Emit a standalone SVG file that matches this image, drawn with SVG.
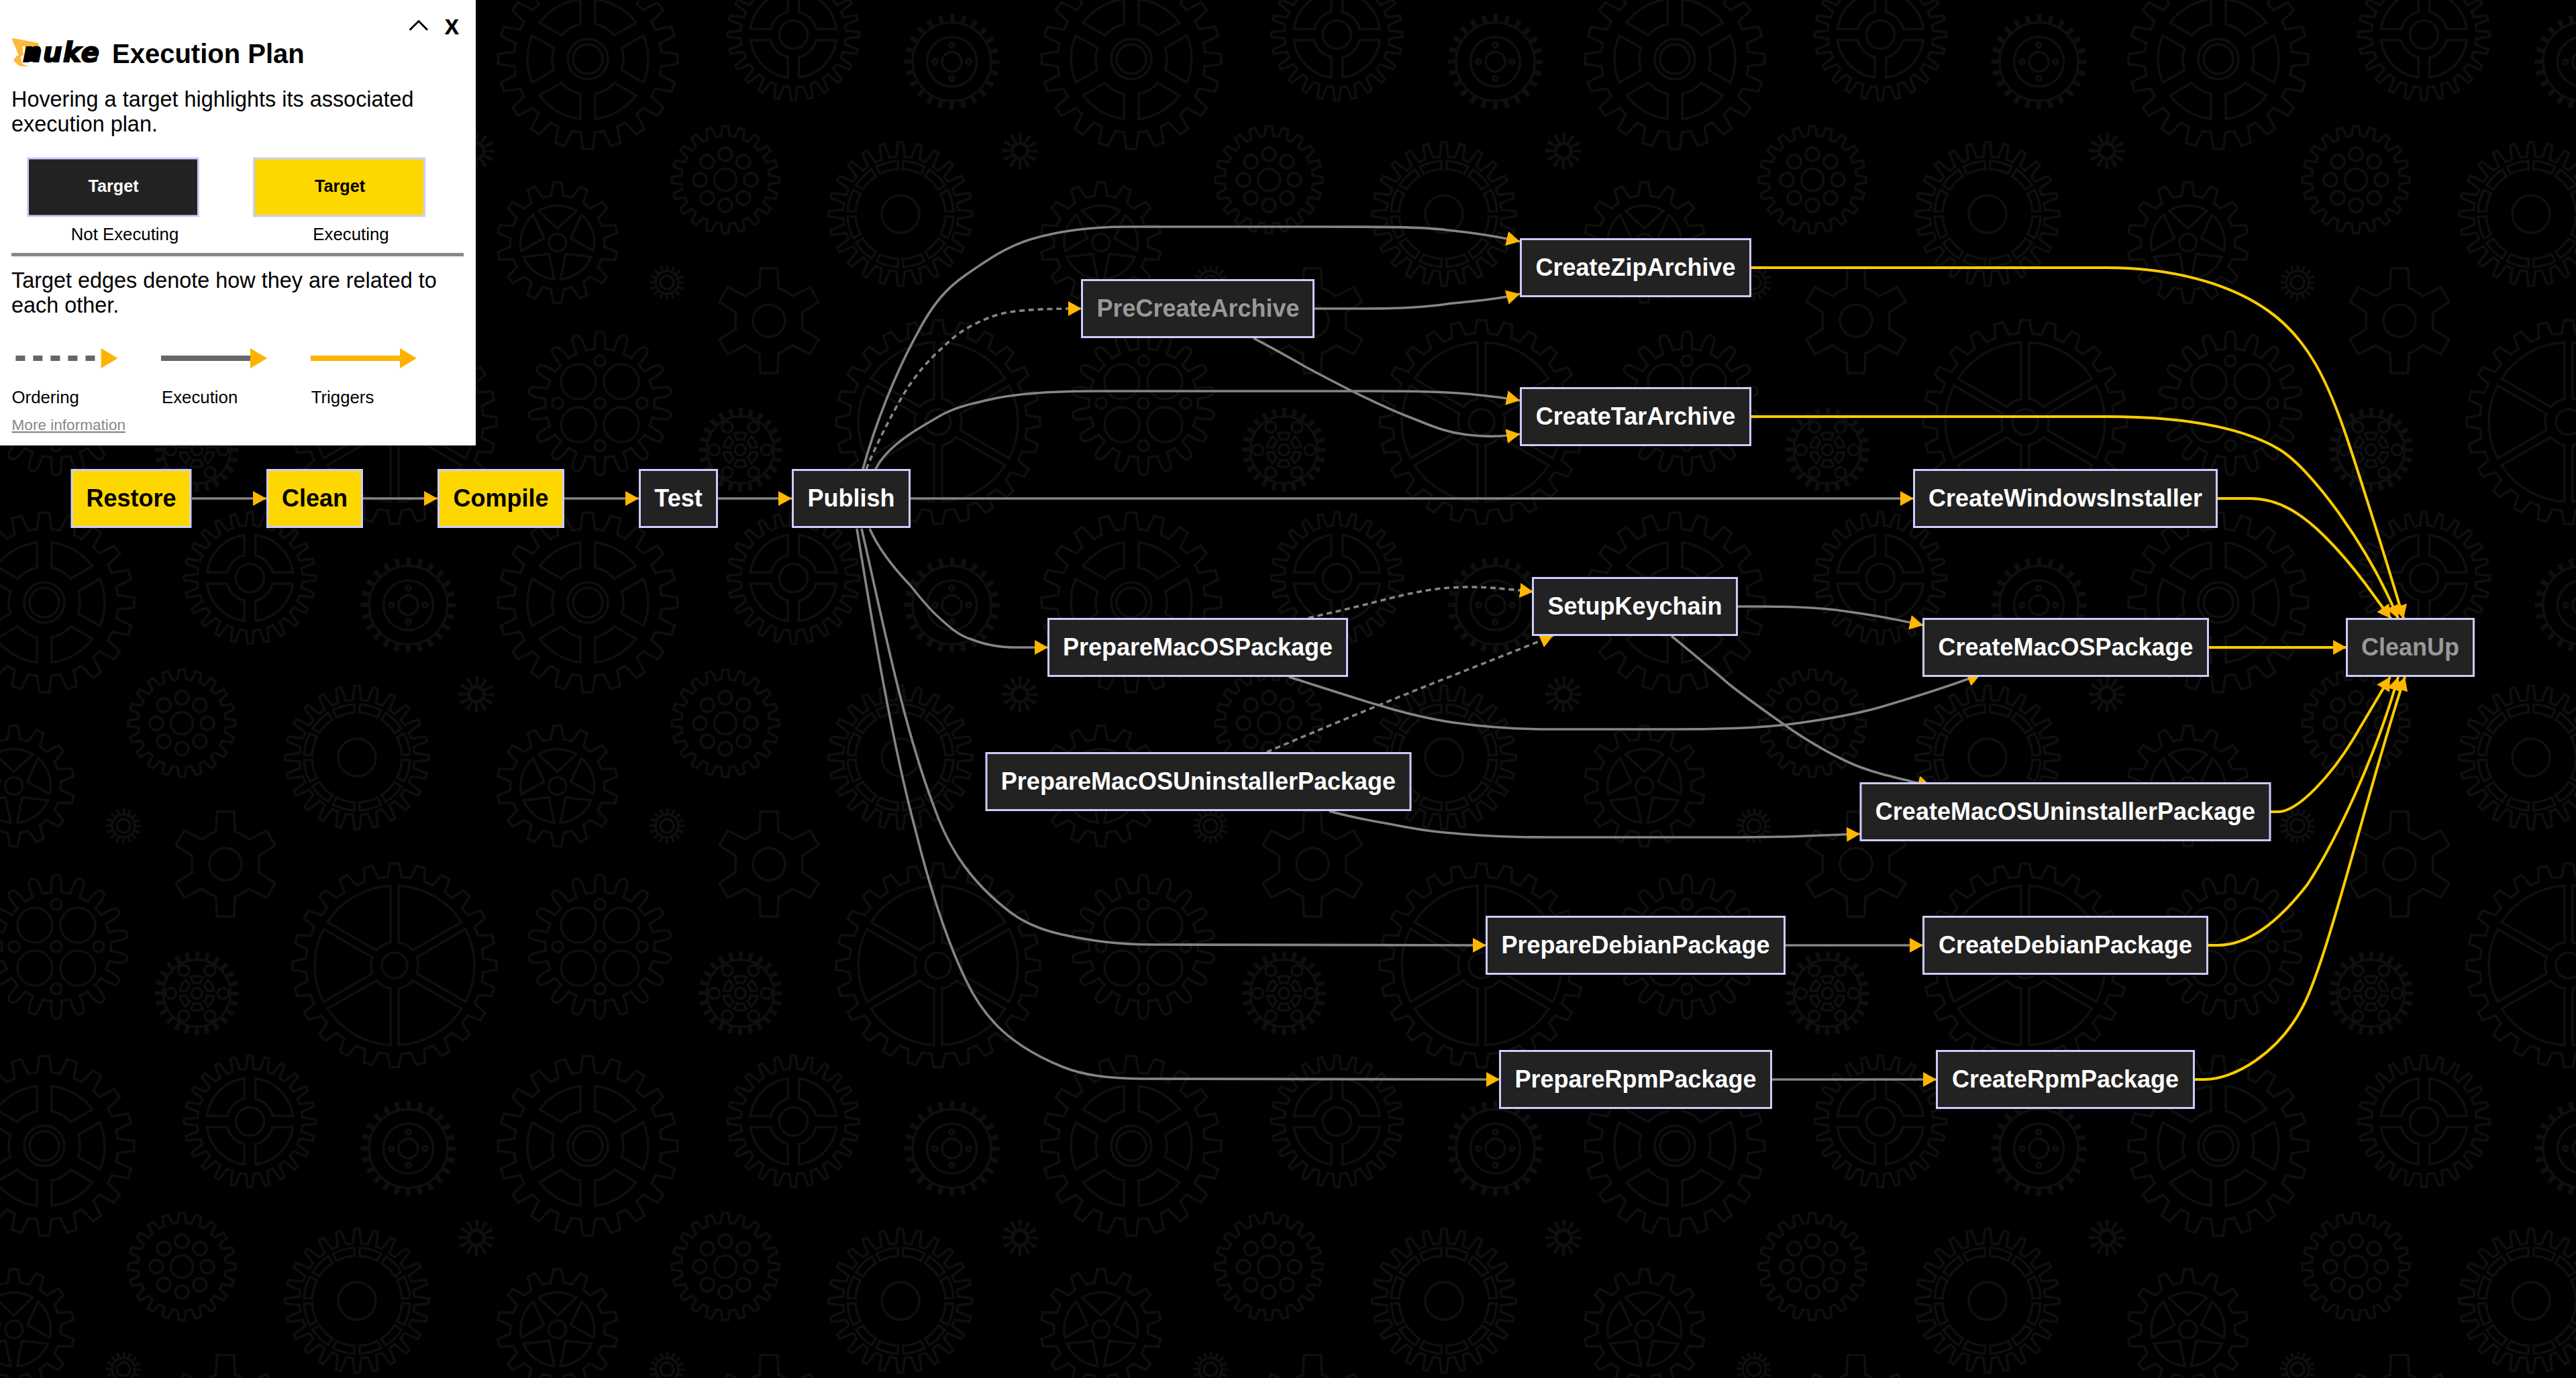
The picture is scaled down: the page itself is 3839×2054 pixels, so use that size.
<svg xmlns="http://www.w3.org/2000/svg" width="3839" height="2054" viewBox="0 0 3839 2054">
<style>
.gear{fill:none;stroke:#0f0f0f;stroke-width:3.5}
.edge{fill:none;stroke:#858585;stroke-width:3.6;marker-end:url(#arrow)}
.dash{stroke-dasharray:8 5.8}
.trig{fill:none;stroke:#ffcc00;stroke-width:4;marker-end:url(#arrow)}
.node rect{stroke:#ccccff;stroke-width:3}
.node text{font-family:"Liberation Sans",Arial,sans-serif;font-weight:700;font-size:36px;text-anchor:middle}
.idle rect{fill:#222222}
.idle text{fill:#ffffff}
.dim text{fill:#999999}
.run rect{fill:#ffd700}
.run text{fill:#000000}
.p{font-family:"Liberation Sans",Arial,sans-serif;font-size:32.4px;fill:#000}
.s{font-family:"Liberation Sans",Arial,sans-serif;font-size:25.8px;fill:#000}
.b{font-family:"Liberation Sans",Arial,sans-serif;font-weight:700;fill:#000}
</style>
<defs>
<marker id="arrow" viewBox="0 0 20 22" refX="20" refY="11" markerUnits="userSpaceOnUse" markerWidth="20" markerHeight="22" orient="auto" preserveAspectRatio="none"><path d="M0 0L20 11L0 22Z" fill="#ffb700"/></marker>
<path id="t24" d="M-11.3 -86.2L-6.8 -86.8L-4.3 -99.9L4.3 -99.9L6.8 -86.8L11.3 -86.2"/>
<g id="q24"><use href="#t24"/><use href="#t24" transform="rotate(15)"/><use href="#t24" transform="rotate(30)"/><use href="#t24" transform="rotate(45)"/><use href="#t24" transform="rotate(60)"/><use href="#t24" transform="rotate(75)"/></g>
<g id="r24"><use href="#q24"/><use href="#q24" transform="rotate(90)"/><use href="#q24" transform="rotate(180)"/><use href="#q24" transform="rotate(270)"/></g>
<path id="u24" d="M-10.4 -79.3L-6 -79.8L-3.5 -100L3.5 -100L6 -79.8L10.4 -79.3"/>
<g id="v24"><use href="#u24"/><use href="#u24" transform="rotate(15)"/><use href="#u24" transform="rotate(30)"/><use href="#u24" transform="rotate(45)"/><use href="#u24" transform="rotate(60)"/><use href="#u24" transform="rotate(75)"/></g>
<g id="w24"><use href="#v24"/><use href="#v24" transform="rotate(90)"/><use href="#v24" transform="rotate(180)"/><use href="#v24" transform="rotate(270)"/></g>
<path id="t20" d="M-12.8 -81L-8 -81.6L-5.5 -99.8L5.5 -99.8L8 -81.6L12.8 -81"/>
<g id="q20"><use href="#t20"/><use href="#t20" transform="rotate(18)"/><use href="#t20" transform="rotate(36)"/><use href="#t20" transform="rotate(54)"/><use href="#t20" transform="rotate(72)"/></g>
<g id="r20"><use href="#q20"/><use href="#q20" transform="rotate(90)"/><use href="#q20" transform="rotate(180)"/><use href="#q20" transform="rotate(270)"/></g>
<path id="t18" d="M-13.2 -74.8L-7 -75.7Q-8 -90 -5 -98Q0 -102 5 -98Q8 -90 7 -75.7L13.2 -74.8"/>
<g id="q18"><use href="#t18"/><use href="#t18" transform="rotate(20)"/><use href="#t18" transform="rotate(40)"/><use href="#t18" transform="rotate(60)"/><use href="#t18" transform="rotate(80)"/><use href="#t18" transform="rotate(100)"/></g>
<g id="r18"><use href="#q18"/><use href="#q18" transform="rotate(120)"/><use href="#q18" transform="rotate(240)"/></g>
<path id="t14" d="M-17.4 -76L-10.5 -77.3L-6.5 -99.8L6.5 -99.8L10.5 -77.3L17.4 -76"/>
<g id="r14"><use href="#t14"/><use href="#t14" transform="rotate(25.714)"/><use href="#t14" transform="rotate(51.429)"/><use href="#t14" transform="rotate(77.143)"/><use href="#t14" transform="rotate(102.857)"/><use href="#t14" transform="rotate(128.571)"/><use href="#t14" transform="rotate(154.286)"/><use href="#t14" transform="rotate(180)"/><use href="#t14" transform="rotate(205.714)"/><use href="#t14" transform="rotate(231.429)"/><use href="#t14" transform="rotate(257.143)"/><use href="#t14" transform="rotate(282.857)"/><use href="#t14" transform="rotate(308.571)"/><use href="#t14" transform="rotate(334.286)"/></g>
<path id="t6" d="M-31.5 -54.6Q-24 -60 -18 -61L-16 -99L16 -99L18 -61Q24 -60 31.5 -54.6"/>
<g id="r6"><use href="#t6"/><use href="#t6" transform="rotate(60)"/><use href="#t6" transform="rotate(120)"/><use href="#t6" transform="rotate(180)"/><use href="#t6" transform="rotate(240)"/><use href="#t6" transform="rotate(300)"/></g>
<path id="spk" d="M6 -34.5L6 -118.8A119 119 0 0 1 99.9 -64.6L26.9 -22.4A35 35 0 0 0 6 -34.5Z"/>
<path id="sg6" d="M11 -52L11 -89.3A90 90 0 0 1 71.8 -54.2L39.4 -35.4A53 53 0 0 0 11 -52Z"/>
<path id="sg4" d="M8.3 -33.6L8.3 -64A64.5 64.5 0 0 1 64 -8.3L34 -8.3A35 35 0 0 0 8.3 -33.6Z"/>
<path id="rng" d="M3.5 -66.9L4.1 -78.9A79 79 0 0 1 35.9 -70.4L30.4 -59.7A67 67 0 0 0 3.5 -66.9Z"/>
<path id="wdg" d="M0 -21L-28.3 -47.1A55 55 0 0 1 28.3 -47.1Z"/>
<path id="det" d="M-9 -24A26 26 0 0 1 9 -24L5 -15A16 16 0 0 0 -5 -15Z"/>
<g id="tile" class="gear">
<g transform="translate(336 478)"><g transform="scale(.79)" stroke-width="4.4"><use href="#r6"/></g><circle r="24"/></g>
<g transform="translate(588 629)"><g transform="scale(1.52)" stroke-width="2.3"><use href="#r24"/></g><circle r="19"/><use href="#spk"/><use href="#spk" transform="rotate(60)"/><use href="#spk" transform="rotate(120)"/><use href="#spk" transform="rotate(180)"/><use href="#spk" transform="rotate(240)"/><use href="#spk" transform="rotate(300)"/></g>
<g transform="translate(84 601)"><g transform="scale(1.07)" stroke-width="3.27"><use href="#r18"/></g><circle cx="-32" cy="-32" r="26"/><circle cx="32" cy="-32" r="26"/><circle cx="-32" cy="32" r="26"/><circle cx="32" cy="32" r="26"/><circle r="8"/><circle cy="-63" r="8"/><circle cy="63" r="8"/><circle cx="-63" r="8"/><circle cx="63" r="8"/></g>
<g transform="translate(293.4 670.5)"><circle r="50"/><circle r="56.5" stroke-width="12" stroke-dasharray="6 8.8" stroke-dashoffset="3"/><circle r="8"/><circle cx="39" r="8"/><circle cx="-39" r="8"/><circle cx="19.5" cy="-33.8" r="8"/><circle cx="-19.5" cy="-33.8" r="8"/><circle cx="19.5" cy="33.8" r="8"/><circle cx="-19.5" cy="33.8" r="8"/><use href="#det"/><use href="#det" transform="rotate(60)"/><use href="#det" transform="rotate(120)"/><use href="#det" transform="rotate(180)"/><use href="#det" transform="rotate(240)"/><use href="#det" transform="rotate(300)"/></g>
<g transform="translate(66 88)"><g transform="scale(1.34)" stroke-width="2.6"><use href="#r20"/></g><circle r="30"/><circle r="22"/><use href="#sg6"/><use href="#sg6" transform="rotate(60)"/><use href="#sg6" transform="rotate(120)"/><use href="#sg6" transform="rotate(180)"/><use href="#sg6" transform="rotate(240)"/><use href="#sg6" transform="rotate(300)"/></g>
<g transform="translate(372.4 51.6)"><g transform="scale(.98)" stroke-width="3.57"><use href="#w24"/></g><circle r="21"/><use href="#sg4"/><use href="#sg4" transform="rotate(90)"/><use href="#sg4" transform="rotate(180)"/><use href="#sg4" transform="rotate(270)"/></g>
<g transform="translate(608.5 92)"><circle r="58.5"/><circle r="65" stroke-width="12" stroke-dasharray="6.5 10.52" stroke-dashoffset="3.25"/><circle r="37"/><circle r="14.5"/><circle cy="-25" r="3.5"/><circle cy="25" r="3.5"/><circle cx="-25" r="3.5"/><circle cx="25" r="3.5"/></g>
<g transform="translate(271 268)"><g transform="scale(.8)" stroke-width="4.4"><use href="#r20"/></g><circle r="16.5"/><circle cx="38" r="10"/><circle cx="-38" r="10"/><circle cy="38" r="10"/><circle cy="-38" r="10"/><circle cx="26.9" cy="26.9" r="10"/><circle cx="-26.9" cy="26.9" r="10"/><circle cx="26.9" cy="-26.9" r="10"/><circle cx="-26.9" cy="-26.9" r="10"/></g>
<g transform="translate(532 319)"><g transform="scale(1.07)" stroke-width="3.27"><use href="#w24"/></g><circle r="28"/><use href="#rng"/><use href="#rng" transform="rotate(30)"/><use href="#rng" transform="rotate(60)"/><use href="#rng" transform="rotate(90)"/><use href="#rng" transform="rotate(120)"/><use href="#rng" transform="rotate(150)"/><use href="#rng" transform="rotate(180)"/><use href="#rng" transform="rotate(210)"/><use href="#rng" transform="rotate(240)"/><use href="#rng" transform="rotate(270)"/><use href="#rng" transform="rotate(300)"/><use href="#rng" transform="rotate(330)"/></g>
<g transform="translate(710 225)"><circle r="11.4" stroke-width="5"/><circle r="19" stroke-width="16" stroke-dasharray="4 5.95" stroke-dashoffset="2"/></g>
<g transform="translate(20.7 361.5)"><g transform="scale(.9)" stroke-width="3.9"><use href="#r14"/></g><circle r="13"/><use href="#wdg"/><use href="#wdg" transform="rotate(72)"/><use href="#wdg" transform="rotate(144)"/><use href="#wdg" transform="rotate(216)"/><use href="#wdg" transform="rotate(288)"/></g>
<g transform="translate(184 421)"><circle r="17"/><circle r="10"/><circle r="21.5" stroke-width="9" stroke-dasharray="3.5 4.94" stroke-dashoffset="1.75"/></g>
</g>
<pattern id="gears" patternUnits="userSpaceOnUse" x="0" y="0" width="810" height="810"><use href="#tile"/><use href="#tile" x="810"/><use href="#tile" y="810"/><use href="#tile" x="810" y="810"/></pattern>
</defs>
<rect id="background" width="3839" height="2054" fill="#000000"/>
<rect id="gear-pattern" width="3839" height="2054" fill="url(#gears)"/>
<g id="connectors">
<path class="edge" d="M286 743L397 743"/>
<path class="edge" d="M541 743L652 743"/>
<path class="edge" d="M841 743L952 743"/>
<path class="edge" d="M1070 743L1180 743"/>
<path class="edge" d="M1286 699C1305 630 1335 555 1367 497C1390 453 1410 430 1439 410C1475 385 1500 368 1535 357C1575 345 1620 338 1678 338L1965 338C2060 338 2120 338 2157 343C2195 347 2235 353 2265 360"/>
<path class="edge dash" d="M1291 699C1305 665 1325 625 1343.5 593C1362 561 1385 535 1406 517C1420 503 1433 493 1449 485C1468 475 1486 468 1506 465C1535 461 1565 460 1612 460"/>
<path class="edge" d="M1959 460L2040 460C2100 460 2130 457 2157 453C2190 449 2232 447 2265 438"/>
<path class="edge" d="M1868 504C1895 518 1920 532 1946 547C1970 560 1990 570 2013 582C2045 598 2078 614 2109 625C2140 638 2160 645 2186 648C2210 651 2240 651 2265 647"/>
<path class="edge" d="M1305 699C1322 665 1365 640 1406 617C1430 605 1455 600 1487 593C1530 585 1580 583 1631 583L2061 583C2110 583 2150 584 2186 587C2215 590 2240 592 2265 597"/>
<path class="edge" d="M1357 743L2852 743"/>
<path class="edge" d="M1296 788C1310 820 1335 850 1357 873C1372 892 1385 908 1400 921C1415 935 1430 948 1448 953C1470 962 1495 965 1515 965L1562 965"/>
<path class="edge" d="M1284 788C1310 900 1345 1080 1391 1200C1410 1255 1440 1310 1506 1360C1530 1378 1555 1387 1583 1393C1620 1401 1660 1408 1720 1408L2215 1409"/>
<path class="edge" d="M1277 788C1300 930 1330 1110 1365 1240C1385 1320 1410 1400 1439 1460C1468 1522 1510 1560 1583 1590C1615 1603 1650 1607 1700 1608L2235 1609"/>
<path class="edge dash" d="M1950 921C1985 913 2020 905 2051 897C2078 890 2102 884 2127 880C2150 876 2172 875 2194 875C2215 875 2235 877 2285 882"/>
<path class="edge dash" d="M1888 1121C1960 1090 2100 1032 2165 1007C2215 987 2265 968 2315 947"/>
<path class="edge" d="M2590 904L2625 904C2675 904 2720 906 2756 912C2795 917 2830 924 2866 932"/>
<path class="edge" d="M2491 948C2520 972 2548 995 2577 1020C2606 1043 2635 1063 2663 1083C2695 1105 2725 1123 2759 1138C2790 1152 2830 1160 2878 1172"/>
<path class="edge" d="M1921 1009C1965 1023 2010 1038 2051 1050C2090 1062 2125 1071 2166 1077C2215 1084 2260 1087 2309 1087L2500 1087C2560 1087 2610 1086 2663 1080C2710 1074 2755 1067 2799 1055C2850 1040 2900 1025 2952 1005"/>
<path class="edge" d="M1981 1209C2010 1217 2040 1223 2070 1228C2100 1234 2133 1240 2166 1242C2215 1247 2260 1248 2309 1248L2548 1248C2600 1248 2650 1248 2692 1246L2772 1243"/>
<path class="edge" d="M2660 1409L2866 1409"/>
<path class="edge" d="M2640 1609L2886 1609"/>
<path class="trig" d="M2610 399L3140 399C3230 399 3320 420 3380 463C3440 505 3470 570 3499 657C3520 720 3567 870 3582 922"/>
<path class="trig" d="M2610 621L3140 621C3230 621 3330 630 3397 670C3445 699 3530 815 3574 922"/>
<path class="trig" d="M3305 743L3354 743C3395 743 3430 765 3465 800C3490 825 3510 850 3525 870L3563 922"/>
<path class="trig" d="M3291 965L3497 965"/>
<path class="trig" d="M3384 1210L3395 1210C3425 1210 3475 1155 3508 1100L3562 1009"/>
<path class="trig" d="M3290 1409L3305 1409C3350 1409 3395 1375 3439 1318C3480 1255 3540 1130 3574 1009"/>
<path class="trig" d="M3270 1609L3285 1609C3330 1609 3395 1570 3431 1502C3470 1430 3530 1170 3584 1009"/>
</g>
<g id="Restore" class="node run"><rect x="107" y="700.5" width="177" height="85"/><text x="195.5" y="755">Restore</text></g>
<g id="Clean" class="node run"><rect x="398.5" y="700.5" width="141" height="85"/><text x="469" y="755">Clean</text></g>
<g id="Compile" class="node run"><rect x="653.5" y="700.5" width="186" height="85"/><text x="746.5" y="755">Compile</text></g>
<g id="Test" class="node idle"><rect x="953.5" y="700.5" width="115" height="85"/><text x="1011" y="755">Test</text></g>
<g id="Publish" class="node idle"><rect x="1181.5" y="700.5" width="174" height="85"/><text x="1268.5" y="755">Publish</text></g>
<g id="PreCreateArchive" class="node idle dim"><rect x="1612.5" y="417.5" width="345" height="85"/><text x="1785.5" y="472">PreCreateArchive</text></g>
<g id="CreateZipArchive" class="node idle"><rect x="2266.5" y="356.5" width="342" height="85"/><text x="2437.5" y="411">CreateZipArchive</text></g>
<g id="CreateTarArchive" class="node idle"><rect x="2266.5" y="578.5" width="342" height="85"/><text x="2437.5" y="633">CreateTarArchive</text></g>
<g id="CreateWindowsInstaller" class="node idle"><rect x="2852.5" y="700.5" width="451" height="85"/><text x="3078" y="755">CreateWindowsInstaller</text></g>
<g id="PrepareMacOSPackage" class="node idle"><rect x="1562.5" y="922.5" width="445" height="85"/><text x="1785" y="977">PrepareMacOSPackage</text></g>
<g id="SetupKeychain" class="node idle"><rect x="2284.5" y="861.5" width="304" height="85"/><text x="2436.5" y="916">SetupKeychain</text></g>
<g id="CreateMacOSPackage" class="node idle"><rect x="2866.5" y="922.5" width="424" height="85"/><text x="3078.5" y="977">CreateMacOSPackage</text></g>
<g id="CleanUp" class="node idle dim"><rect x="3497.5" y="922.5" width="189" height="85"/><text x="3592" y="977">CleanUp</text></g>
<g id="PrepareMacOSUninstallerPackage" class="node idle"><rect x="1470" y="1122.5" width="632" height="85"/><text x="1786" y="1177">PrepareMacOSUninstallerPackage</text></g>
<g id="CreateMacOSUninstallerPackage" class="node idle"><rect x="2773" y="1167.5" width="610" height="85"/><text x="3078" y="1222">CreateMacOSUninstallerPackage</text></g>
<g id="PrepareDebianPackage" class="node idle"><rect x="2215.5" y="1366.5" width="444" height="85"/><text x="2437.5" y="1421">PrepareDebianPackage</text></g>
<g id="CreateDebianPackage" class="node idle"><rect x="2866.5" y="1366.5" width="423" height="85"/><text x="3078" y="1421">CreateDebianPackage</text></g>
<g id="PrepareRpmPackage" class="node idle"><rect x="2235.5" y="1566.5" width="404" height="85"/><text x="2437.5" y="1621">PrepareRpmPackage</text></g>
<g id="CreateRpmPackage" class="node idle"><rect x="2886.5" y="1566.5" width="383" height="85"/><text x="3078" y="1621">CreateRpmPackage</text></g>
<g id="legend">
<rect x="0" y="0" width="709" height="664" fill="#ffffff"/>
<polyline points="610.6,44.7 624,31.5 637,44.7" fill="none" stroke="#000" stroke-width="3"/>
<text class="b" x="663" y="51" font-size="31" stroke="#000" stroke-width=".6">X</text>
<path d="M17.3 57.3L20.7 57.3L57.3 64L59.3 70.7L33.3 69L35 82L31 84L33 95L43 99.5L28 98L20 90L25 83L28 83Z" fill="#ffb83d"/>
<path d="M44 70L60 70L50 92L38 92Z" fill="#000"/>
<text x="34" y="92" font-family="'DejaVu Sans',sans-serif" font-weight="700" font-style="italic" font-size="40" stroke="#000" stroke-width="2" fill="#000" letter-spacing="1.5">nuke</text>
<text class="b" x="167" y="94" font-size="40">Execution Plan</text>
<text class="p" x="17" y="159">Hovering a target highlights its associated</text>
<text class="p" x="17" y="196">execution plan.</text>
<g class="node idle"><rect x="41.5" y="236" width="254" height="86"/></g>
<text class="b" x="169" y="286" font-size="25.2" text-anchor="middle" style="fill:#fff">Target</text>
<g class="node run"><rect x="378.5" y="236" width="254" height="86"/></g>
<text class="b" x="506.5" y="286" font-size="25.2" text-anchor="middle">Target</text>
<text class="s" x="186" y="358" text-anchor="middle">Not Executing</text>
<text class="s" x="523" y="358" text-anchor="middle">Executing</text>
<rect x="17" y="377" width="674" height="5" fill="#888888"/>
<rect x="17" y="382" width="674" height="1.5" fill="#eeeeee"/>
<text class="p" x="17" y="428.5">Target edges denote how they are related to</text>
<text class="p" x="17" y="466">each other.</text>
<line x1="17.4" y1="534" x2="151" y2="534" stroke="#666666" stroke-width="8" stroke-dasharray="14 12" stroke-dashoffset="20"/>
<path d="M150.6 519L175.4 534L150.6 549Z" fill="#ffb300"/>
<line x1="240" y1="534" x2="374" y2="534" stroke="#666666" stroke-width="8"/>
<path d="M373 519L398 534L373 549Z" fill="#ffb300"/>
<line x1="463" y1="534" x2="597" y2="534" stroke="#ffb300" stroke-width="8"/>
<path d="M596 519L621 534L596 549Z" fill="#ffb300"/>
<text class="s" x="17.5" y="600.5">Ordering</text>
<text class="s" x="241" y="600.5">Execution</text>
<text class="s" x="463.7" y="600.5">Triggers</text>
<text x="17.5" y="641" font-family="'Liberation Sans',Arial,sans-serif" font-size="22.6" fill="#888888" text-decoration="underline">More information</text>
</g>
</svg>
